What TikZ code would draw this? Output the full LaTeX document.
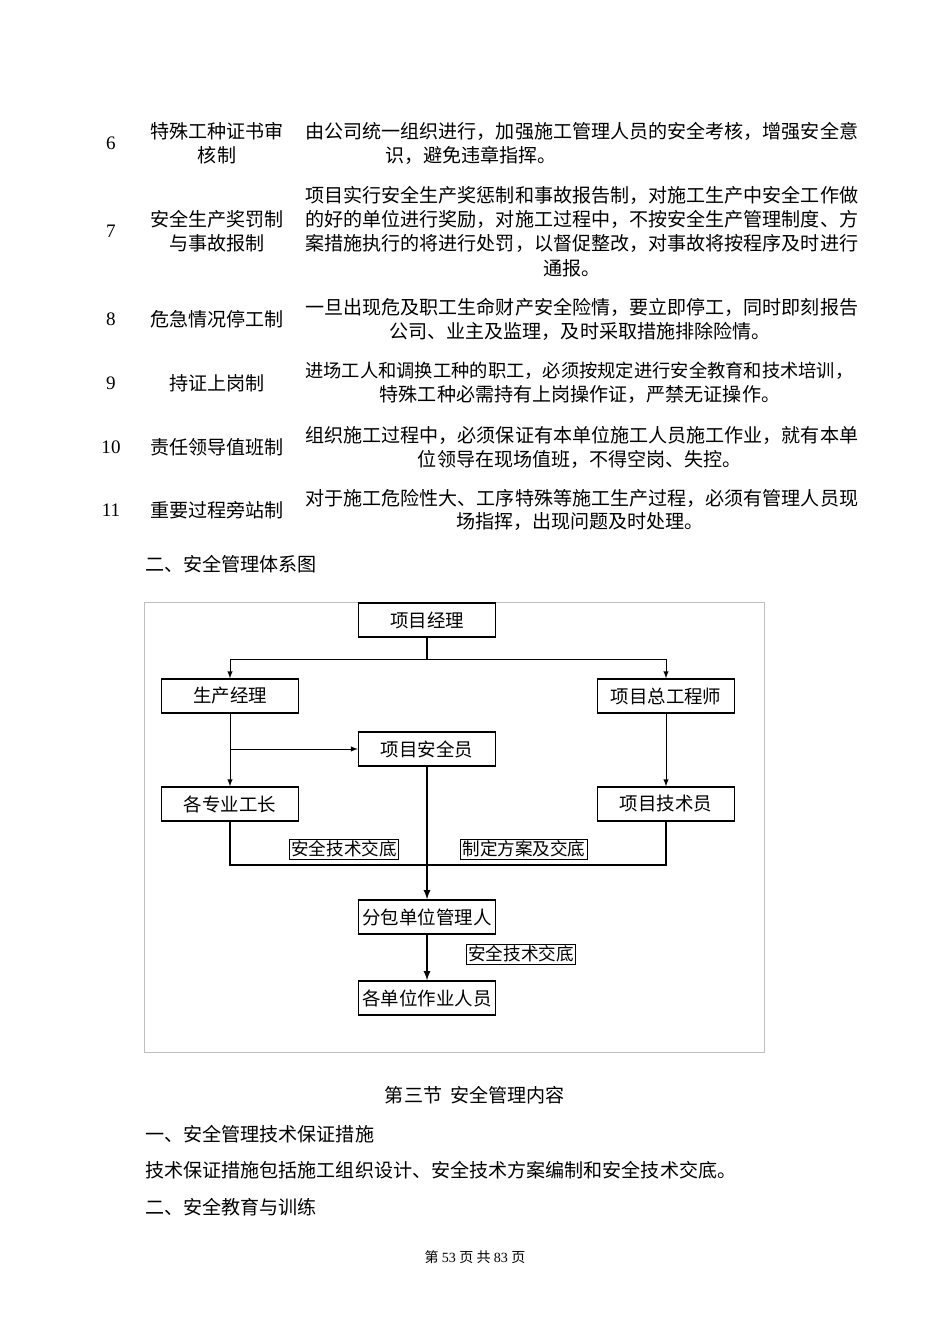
\documentclass[tikz,border=0pt]{standalone}
\usepackage{fontspec}
\setmainfont{Liberation Serif}
\newfontfamily\cjk{Noto Sans CJK SC}
\usetikzlibrary{arrows}
\tikzset{%
	txt/.style={inner sep=0pt,font=\fontsize{10.85pt}{13pt}\cjk},
	org/.style={draw,thick,minimum width=2.74cm,minimum height=0.68cm,inner sep=0pt,font=\fontsize{10.5pt}{12pt}\cjk},
	tag/.style={draw,thin,inner sep=1pt,fill=white,font=\fontsize{10pt}{12pt}\cjk},
	link/.style={->,>=latex,thin},
}
\begin{document}
\begin{tikzpicture}[x=0.02cm,y=-0.02cm]
			\useasboundingbox[fill=white] (0,0) rectangle (950,1344);
			
			%TABELA
			\node[txt] (n6) at (111,143) {\rmfamily 6};
			\node[txt] (c6a) at (217,131) {特殊工种证书审};
			\node[txt] (c6b) at (217,155) {核制};
			\node[txt,anchor=west] (d6a) at (305,131) {由公司统一组织进行，加强施工管理人员的安全考核，增强安全意};
			\node[txt,anchor=west] (d6b) at (385,155) {识，避免违章指挥。};
			
			\node[txt] (n7) at (111,231) {\rmfamily 7};
			\node[txt] (c7a) at (217,219) {安全生产奖罚制};
			\node[txt] (c7b) at (217,243) {与事故报制};
			\node[txt,anchor=west] (d7a) at (305,195) {项目实行安全生产奖惩制和事故报告制，对施工生产中安全工作做};
			\node[txt,anchor=west] (d7b) at (305,219) {的好的单位进行奖励，对施工过程中，不按安全生产管理制度、方};
			\node[txt,anchor=west] (d7c) at (305,243) {案措施执行的将进行处罚，以督促整改，对事故将按程序及时进行};
			\node[txt] (d7d) at (572,268) {通报。};
			
			\node[txt] (n8) at (111,319) {\rmfamily 8};
			\node[txt] (c8) at (217,319) {危急情况停工制};
			\node[txt,anchor=west] (d8a) at (305,307) {一旦出现危及职工生命财产安全险情，要立即停工，同时即刻报告};
			\node[txt] (d8b) at (580,331) {公司、业主及监理，及时采取措施排除险情。};
			
			\node[txt] (n9) at (111,383) {\rmfamily 9};
			\node[txt] (c9) at (217,383) {持证上岗制};
			\node[txt,anchor=west,font=\fontsize{10.4pt}{13pt}\cjk] (d9a) at (305,371) {进场工人和调换工种的职工，必须按规定进行安全教育和技术培训，};
			\node[txt] (d9b) at (580,395) {特殊工种必需持有上岗操作证，严禁无证操作。};
			
			\node[txt] (n10) at (111,447) {\rmfamily 10};
			\node[txt] (c10) at (217,447) {责任领导值班制};
			\node[txt,anchor=west] (d10a) at (305,435) {组织施工过程中，必须保证有本单位施工人员施工作业，就有本单};
			\node[txt] (d10b) at (580,459) {位领导在现场值班，不得空岗、失控。};
			
			\node[txt] (n11) at (111,510) {\rmfamily 11};
			\node[txt] (c11) at (217,510) {重要过程旁站制};
			\node[txt,anchor=west] (d11a) at (305,498) {对于施工危险性大、工序特殊等施工生产过程，必须有管理人员现};
			\node[txt] (d11b) at (580,522) {场指挥，出现问题及时处理。};
			
			\node[txt,anchor=west] (h2) at (145,564) {二、安全管理体系图};
			
			%SHEMA
			\draw[gray!50] (144,602) rectangle (764,1052);
			\node[org] (pm) at (427,620) {项目经理};
			\node[org] (prod) at (230,696) {生产经理};
			\node[org] (chief) at (666,696) {项目总工程师};
			\node[org] (safe) at (427,749) {项目安全员};
			\node[org] (fore) at (230,804) {各专业工长};
			\node[org] (tech) at (666,804) {项目技术员};
			\node[org] (sub) at (427,917) {分包单位管理人};
			\node[org] (work) at (427,998) {各单位作业人员};
			
			%PUŠCICE
			\draw[thick] (pm.south) -- (427,659) coordinate (top);
			\draw[link] (top) -| (prod.north);
			\draw[link] (top) -| (chief.north);
			\draw[link] (prod.south) -- (fore.north);
			\draw[link] (230,749) -- (safe.west);
			\draw[link] (chief.south) -- (tech.north);
			\draw[thick] (fore.south) |- (427,865) -| (tech.south);
			\draw[link,thick] (safe.south) -- (sub.north);
			\draw[link,thick] (sub.south) -- (work.north);
			
			%OZNAKE
			\node[tag] (t1) at (344,849) {安全技术交底};
			\node[tag] (t2) at (524,849) {制定方案及交底};
			\node[tag] (t3) at (521,954) {安全技术交底};
			
			%KONEC
			\node[txt] (sec) at (475,1095) {第三节\ \ 安全管理内容};
			\node[txt,anchor=west] (p1) at (145,1134) {一、安全管理技术保证措施};
			\node[txt,anchor=west] (p2) at (145,1170) {技术保证措施包括施工组织设计、安全技术方案编制和安全技术交底。};
			\node[txt,anchor=west] (p3) at (145,1207) {二、安全教育与训练};
			\node[txt,font=\fontsize{8pt}{10pt}\cjk] (foot) at (475,1257) {第\ \rmfamily 53\ \cjk 页\ 共\ \rmfamily 83\ \cjk 页};
\end{tikzpicture}
\end{document}
